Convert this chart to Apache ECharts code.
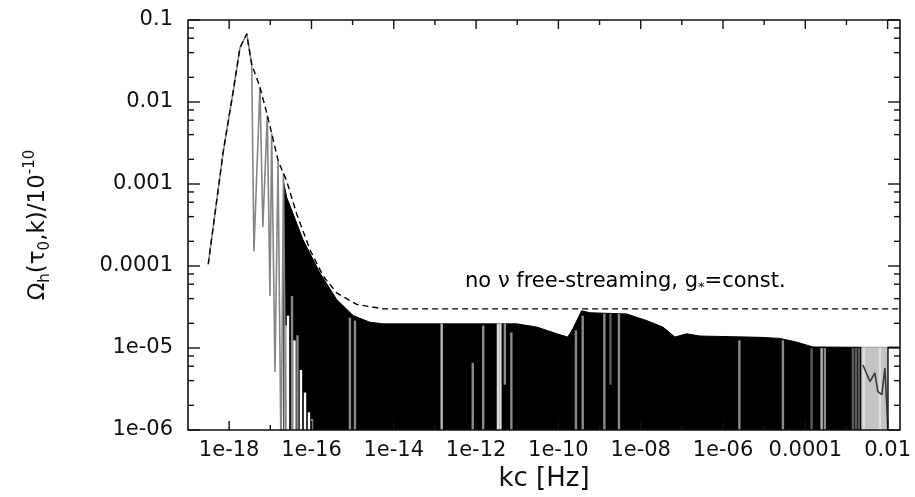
<!DOCTYPE html>
<html>
<head>
<meta charset="utf-8">
<script src="https://cdn.jsdelivr.net/npm/echarts@6/dist/echarts.min.js"></script>
<style>
  html, body { margin: 0; padding: 0; background: #fff; }
  #chart { width: 915px; height: 497px; }
</style>
</head>
<body>
<div id="chart"></div>
<script>
// Axis extents
const X_MIN = 1e-19, X_MAX = 0.02, Y_MIN = 1e-6, Y_MAX = 0.1;

// Tick values and labels
const xTickValues = [1e-18, 1e-16, 1e-14, 1e-12, 1e-10, 1e-8, 1e-6, 1e-4, 1e-2];
const xTickLabels = ['1e-18', '1e-16', '1e-14', '1e-12', '1e-10', '1e-08', '1e-06', '0.0001', '0.01'];
const xMinorTicks = [1e-17, 1e-15, 1e-13, 1e-11, 1e-9, 1e-7, 1e-5, 1e-3];
const yTickValues = [1e-6, 1e-5, 1e-4, 1e-3, 1e-2, 1e-1];
const yTickLabels = ['1e-06', '1e-05', '0.0001', '0.001', '0.01', '0.1'];
const yMinorTicks = [
  2e-6, 4e-6, 6e-6, 8e-6,
  2e-5, 4e-5, 6e-5, 8e-5,
  2e-4, 4e-4, 6e-4, 8e-4,
  2e-3, 4e-3, 6e-3, 8e-3,
  2e-2, 4e-2, 6e-2, 8e-2
];

// Spectrum where the oscillations are resolved: [kc (Hz), Omega_h / 1e-10]
const resolvedCurve = [
  [3.1e-19, 1.05e-4], [7.2e-19, 2.5e-3], [1.26e-18, 0.0137], [1.83e-18, 0.0457],
  [2.67e-18, 0.068], [3.53e-18, 0.0288], [4.0e-18, 1.5e-4], [5.6e-18, 0.0152],
  [6.6e-18, 3.0e-4], [8.45e-18, 6.9e-3], [9.8e-18, 4.3e-5], [1.08e-17, 4.15e-3],
  [1.3e-17, 5.1e-6], [1.54e-17, 1.9e-3], [1.82e-17, 5e-7], [2.09e-17, 1.37e-3],
  [2.4e-17, 5e-7]
];

// Upper envelope of the densely oscillating part (filled down to the axis)
const denseEnvelope = [
  [2.07e-17, 1.1e-3], [2.5e-17, 6.9e-4], [6.3e-17, 2.07e-4], [1.61e-16, 8.2e-5],
  [4.1e-16, 3.9e-5], [1.04e-15, 2.48e-5], [2.64e-15, 2.06e-5], [5.6e-15, 1.97e-5],
  [2.3e-13, 1.97e-5], [9.8e-12, 1.97e-5], [3.0e-11, 1.8e-5], [1.09e-10, 1.45e-5],
  [1.7e-10, 1.36e-5], [2.26e-10, 1.73e-5], [3.67e-10, 2.84e-5], [5.85e-10, 2.69e-5],
  [4.55e-9, 2.6e-5], [1.39e-8, 2.16e-5], [3.47e-8, 1.8e-5], [6.8e-8, 1.36e-5],
  [1.3e-7, 1.49e-5], [2.75e-7, 1.40e-5], [7.9e-6, 1.35e-5], [2.4e-5, 1.31e-5],
  [6.15e-5, 1.18e-5], [1.53e-4, 1.03e-5], [2.33e-3, 1.02e-5]
];

// High-frequency end: partially resolved band and the last segment
const tailBand = [[2.33e-3, 1.02e-5], [1.02e-2, 1.02e-5]];
const tailMinima = [
  [2.51e-3, 6.2e-6], [3.72e-3, 3.9e-6], [4.9e-3, 4.98e-6], [5.8e-3, 2.94e-6],
  [7.26e-3, 2.7e-6], [8.6e-3, 5.7e-6], [1.0e-2, 1.2e-6]
];
const tailEdge = [[1.02e-2, 1e-6], [1.02e-2, 1.02e-5], [0.02, 1.02e-5]];

// Sampling streaks inside the dense region: [kc, top, bottom, shade]
const streaks = [
  [2.34e-17, 1.88e-5, 1e-6, 0], [2.69e-17, 2.48e-5, 1e-6, 0], [3.37e-17, 4.3e-5, 1e-6, 3],
  [3.86e-17, 1.24e-5, 1e-6, 0], [4.57e-17, 1.43e-5, 1e-6, 3], [5.56e-17, 5.4e-6, 1e-6, 0],
  [6.97e-17, 2.86e-6, 1e-6, 0], [8.7e-17, 1.64e-6, 1e-6, 0], [1.03e-16, 1.36e-6, 1e-6, 3],
  [8.6e-16, 2.34e-5, 1e-6, 3], [1.14e-15, 2.16e-5, 1e-6, 3], [1.46e-13, 1.99e-5, 1e-6, 2],
  [8.3e-13, 6.6e-6, 1e-6, 3], [1.49e-12, 1.88e-5, 1e-6, 3], [3.4e-12, 1.99e-5, 1e-6, 1],
  [3.9e-12, 1.99e-5, 1e-6, 1], [5.0e-12, 1.99e-5, 3.57e-6, 3], [7.2e-12, 1.55e-5, 1e-6, 3],
  [2.67e-10, 1.64e-5, 1e-6, 3], [3.9e-10, 2.48e-5, 1e-6, 3], [1.31e-9, 2.62e-5, 1e-6, 3],
  [1.84e-9, 2.62e-5, 3.57e-6, 4], [2.96e-9, 2.62e-5, 1e-6, 3], [2.5e-6, 1.24e-5, 1e-6, 3],
  [2.86e-5, 1.24e-5, 1e-6, 3], [1.42e-4, 9.96e-6, 1e-6, 4], [2.49e-4, 9.96e-6, 1e-6, 2],
  [2.99e-4, 9.96e-6, 1e-6, 3], [1.43e-3, 9.96e-6, 1e-6, 4], [1.69e-3, 9.96e-6, 1e-6, 4],
  [2.0e-3, 9.96e-6, 1e-6, 4], [2.65e-3, 9.96e-6, 1e-6, 1], [6.5e-3, 9.96e-6, 1e-6, 1]
];

// Spectrum without neutrino free-streaming, g* = const.
const constGCurve = [
  [3.1e-19, 1.05e-4], [7.2e-19, 2.5e-3], [1.26e-18, 0.0137], [1.83e-18, 0.0457],
  [2.67e-18, 0.068], [3.53e-18, 0.0288], [5.6e-18, 0.0152], [8.45e-18, 6.9e-3],
  [1.08e-17, 4.15e-3], [1.56e-17, 1.9e-3], [2.5e-17, 1.09e-3], [4.38e-17, 4.3e-4],
  [9.2e-17, 1.58e-4], [1.94e-16, 7.5e-5], [4.1e-16, 4.7e-5], [1.26e-15, 3.4e-5],
  [5.5e-15, 3.0e-5], [0.02, 3.0e-5]
];
const constGLabelAt = [[5.4e-13, 6.5e-5]];

const FONT = 'DejaVu Sans';
const SHADES = ['#ffffff', '#dedede', '#b4b4b4', '#8a8a8a', '#5a5a5a'];

function labelFor(values, labels) {
  return function (v) {
    const lv = Math.log10(v);
    const i = values.findIndex(t => Math.abs(Math.log10(t) - lv) < 1e-6);
    return i < 0 ? '' : labels[i];
  };
}

// tick items: [value, kind]  kind 1 = x minor, 2 = x major, 3 = y minor, 4 = y major
const tickItems = []
  .concat(xMinorTicks.map(v => [v, 1]))
  .concat(xTickValues.map(v => [v, 2]))
  .concat(yMinorTicks.map(v => [v, 3]))
  .concat(yTickValues.map(v => [v, 4]));

function renderTick(params, api) {
  const v = api.value(0), kind = api.value(1);
  const lo = api.coord([X_MIN, Y_MIN]);
  const hi = api.coord([X_MAX, Y_MAX]);
  const style = { stroke: '#111', lineWidth: 1.4 };
  if (kind <= 2) {
    const len = kind === 2 ? 9 : 5;
    const x = api.coord([v, Y_MIN])[0];
    return { type: 'group', children: [
      { type: 'line', shape: { x1: x, y1: lo[1], x2: x, y2: lo[1] - len }, style },
      { type: 'line', shape: { x1: x, y1: hi[1], x2: x, y2: hi[1] + len }, style }
    ] };
  }
  const len = kind === 4 ? 12 : 6;
  const y = api.coord([X_MIN, v])[1];
  return { type: 'group', children: [
    { type: 'line', shape: { x1: lo[0], y1: y, x2: lo[0] + len, y2: y }, style },
    { type: 'line', shape: { x1: hi[0], y1: y, x2: hi[0] - len, y2: y }, style }
  ] };
}

function renderFrame(params, api) {
  const lo = api.coord([X_MIN, Y_MIN]);
  const hi = api.coord([X_MAX, Y_MAX]);
  return {
    type: 'rect',
    shape: { x: lo[0], y: hi[1], width: hi[0] - lo[0], height: lo[1] - hi[1] },
    style: { fill: 'none', stroke: '#111', lineWidth: 1.6 }
  };
}

function renderStreak(params, api) {
  const top = api.coord([api.value(0), api.value(1)]);
  const bot = api.coord([api.value(0), api.value(2)]);
  const w = 2.4;
  return {
    type: 'rect',
    shape: { x: top[0] - w / 2, y: top[1], width: w, height: bot[1] - top[1] },
    style: { fill: SHADES[api.value(3)] }
  };
}

const chart = echarts.init(document.getElementById('chart'), null, { renderer: 'canvas' });

chart.setOption({
  animation: false,
  backgroundColor: '#fff',
  textStyle: { fontFamily: FONT },
  grid: { left: 188, right: 15, top: 20, bottom: 61, containLabel: false },
  xAxis: {
    type: 'log', logBase: 10, min: X_MIN, max: X_MAX, interval: 1,
    axisLine: { show: false }, axisTick: { show: false }, splitLine: { show: false },
    axisLabel: { formatter: labelFor(xTickValues, xTickLabels), margin: 10,
      fontFamily: FONT, fontSize: 21, color: '#111' },
    name: 'kc [Hz]', nameLocation: 'middle', nameGap: 36,
    nameTextStyle: { fontFamily: FONT, fontSize: 26, color: '#111' }
  },
  yAxis: {
    type: 'log', logBase: 10, min: Y_MIN, max: Y_MAX, interval: 1,
    axisLine: { show: false }, axisTick: { show: false }, splitLine: { show: false },
    axisLabel: { formatter: labelFor(yTickValues, yTickLabels), margin: 15,
      fontFamily: FONT, fontSize: 21, color: '#111' },
    name: '{m|Ω}{s|h}{m|(τ}{s|0}{m|,k)/10}{p|-10}',
    nameLocation: 'middle', nameRotate: 90, nameGap: 135,
    nameTextStyle: {
      color: '#111',
      rich: {
        m: { fontFamily: FONT, fontSize: 23, lineHeight: 30, color: '#111' },
        s: { fontFamily: FONT, fontSize: 15, lineHeight: 15, verticalAlign: 'bottom', color: '#111' },
        p: { fontFamily: FONT, fontSize: 15, lineHeight: 15, verticalAlign: 'top', color: '#111' }
      }
    }
  },
  series: [
    {
      name: 'dense', type: 'line', data: denseEnvelope, showSymbol: false, symbol: 'none',
      lineStyle: { color: '#000', width: 1 },
      areaStyle: { color: '#000', opacity: 1, origin: 'start' }, z: 2
    },
    {
      name: 'tailBand', type: 'line', data: tailBand, showSymbol: false, symbol: 'none',
      lineStyle: { color: '#9a9a9a', width: 1 },
      areaStyle: { color: '#c4c4c4', opacity: 1, origin: 'start' }, z: 2
    },
    {
      name: 'streaks', type: 'custom', data: streaks, renderItem: renderStreak,
      clip: true, z: 3, silent: true
    },
    {
      name: 'tailMinima', type: 'line', data: tailMinima, showSymbol: false, symbol: 'none',
      lineStyle: { color: '#3a3a3a', width: 1.6 }, z: 4
    },
    {
      name: 'tailEdge', type: 'line', data: tailEdge, showSymbol: false, symbol: 'none',
      lineStyle: { color: '#222', width: 1.6 }, z: 4
    },
    {
      name: 'resolved', type: 'line', data: resolvedCurve, showSymbol: false, symbol: 'none',
      lineStyle: { color: '#858585', width: 1.6 }, clip: true, z: 4
    },
    {
      name: 'constG', type: 'line', data: constGCurve, showSymbol: false, symbol: 'none',
      lineStyle: { color: '#000', width: 1.4, type: [6, 4] }, z: 5
    },
    {
      name: 'constGLabel', type: 'scatter', data: constGLabelAt, symbolSize: 0,
      itemStyle: { color: '#000', opacity: 1 }, z: 6, silent: true,
      label: {
        show: true, position: 'right', distance: 0, opacity: 1,
        formatter: '{t|no ν free-streaming, g}{s|*}{t|=const.}',
        rich: {
          t: { fontFamily: FONT, fontSize: 21, lineHeight: 26, color: '#000' },
          s: { fontFamily: FONT, fontSize: 13, lineHeight: 13, verticalAlign: 'bottom', color: '#000' }
        }
      }
    },
    {
      name: 'frame', type: 'custom', data: [[X_MIN, Y_MIN]], renderItem: renderFrame,
      clip: false, z: 8, silent: true
    },
    {
      name: 'ticks', type: 'custom', data: tickItems, renderItem: renderTick,
      clip: false, z: 8, silent: true
    }
  ]
});
</script>
</body>
</html>
